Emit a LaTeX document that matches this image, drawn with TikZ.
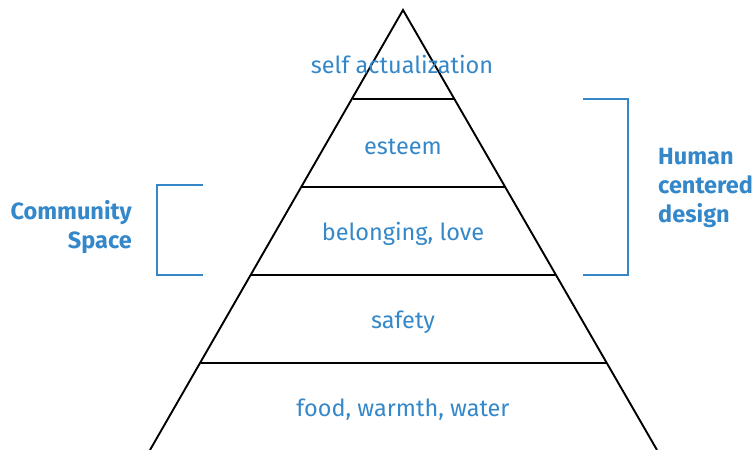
\documentclass[tikz,border=0pt]{standalone}
\usepackage{fontspec}
\setmainfont{Fira Sans}
\definecolor{hblue}{RGB}{52,136,202}

\begin{document}
\begin{tikzpicture}[x=1pt,y=-1pt,
  level/.style={font=\fontsize{23.5}{28}\selectfont,text=hblue},
  group/.style={font=\fontsize{23.5}{29}\selectfont\bfseries,text=hblue},
  bracket/.style={draw=hblue,line width=1.9pt},
  edge/.style={draw=black,line width=1.9pt}]
  \useasboundingbox (0,0) rectangle (753,450);
  % corners of the pyramid
  \coordinate (apex) at (403,10);
  \coordinate (l1) at (353,99);   \coordinate (r1) at (455,99);
  \coordinate (l2) at (302,187);  \coordinate (r2) at (505,187);
  \coordinate (l3) at (251,275);  \coordinate (r3) at (555,275);
  \coordinate (l4) at (201,363);  \coordinate (r4) at (607,363);
  \coordinate (l5) at (150,450);  \coordinate (r5) at (657,450);
  \draw[edge] (l5) -- (apex) -- (r5);
  \draw[edge] (l1) -- (r1);
  \draw[edge] (l2) -- (r2);
  \draw[edge] (l3) -- (r3);
  \draw[edge] (l4) -- (r4);
  % level labels
  \node[level] (self)  at (402,64)  {self actualization};
  \node[level] (est)   at (403,147) {esteem};
  \node[level] (bel)   at (403,234) {belonging, love};
  \node[level] (safe)  at (403,322) {safety};
  \node[level] (food)  at (403,410) {food, warmth, water};
  % brackets
  \coordinate (cs1) at (203,185); \coordinate (cs2) at (157,185);
  \coordinate (cs3) at (157,275); \coordinate (cs4) at (203,275);
  \draw[bracket] (cs1) -- (cs2) -- (cs3) -- (cs4);
  \coordinate (hc1) at (583,99);  \coordinate (hc2) at (628,99);
  \coordinate (hc3) at (628,275); \coordinate (hc4) at (583,275);
  \draw[bracket] (hc1) -- (hc2) -- (hc3) -- (hc4);
  \node[group,align=right,anchor=east,inner sep=0pt] (comm) at (132,227) {Community\\Space};
  \node[group,align=left,anchor=west,inner sep=0pt] (human) at (658,188) {Human\\centered\\design};
\end{tikzpicture}
\end{document}
